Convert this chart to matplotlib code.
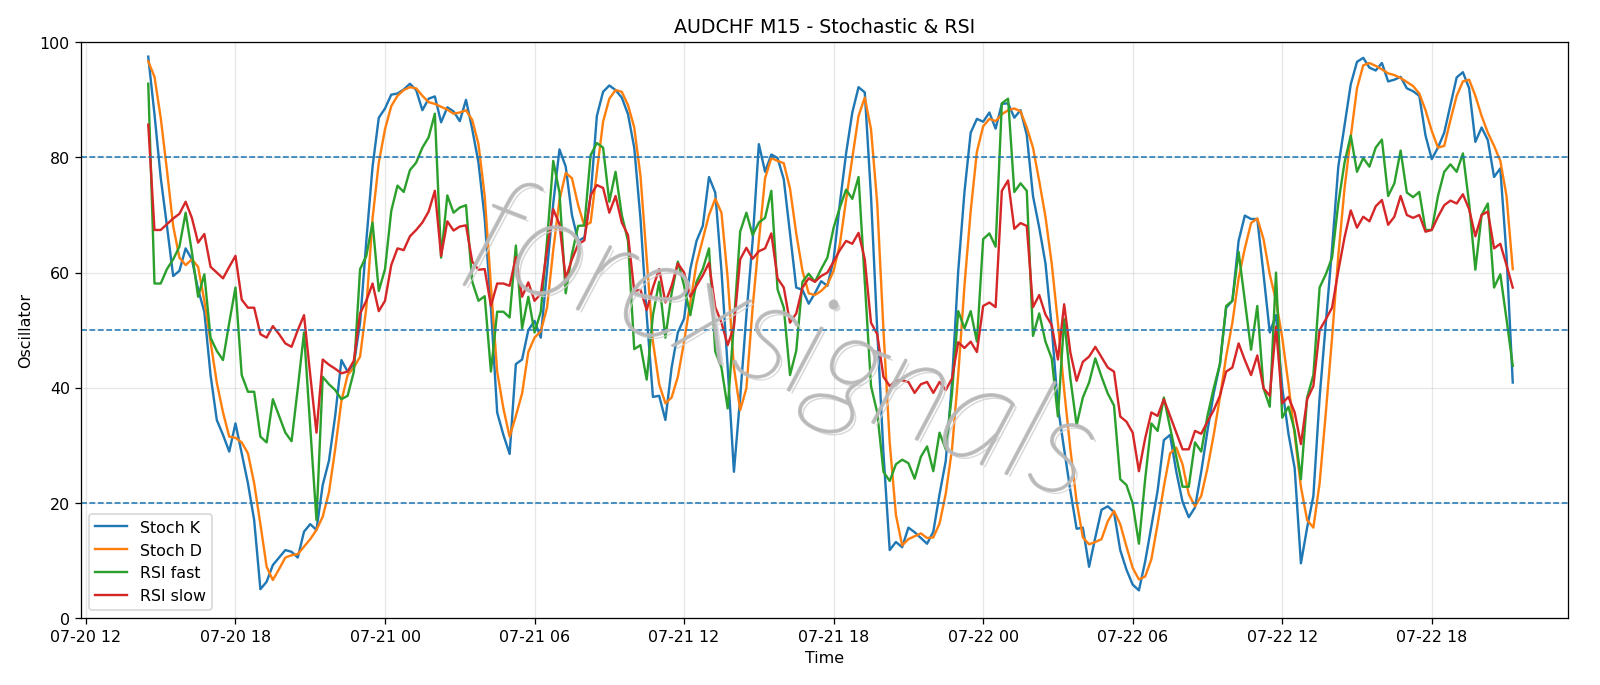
import numpy as np
import pandas as pd
import matplotlib
matplotlib.use('Agg')
import matplotlib.pyplot as plt
import matplotlib.dates as mdates
import matplotlib.patheffects as pe

# M15 bars, 07-20 14:30 .. 07-22 21:15
start_time = "2020-07-20 14:30"
n_bars = 220

stoch_k = [
    97.5, 87.5, 76.5, 68.1, 59.4, 60.3, 64.2, 62.3, 57.1, 53.2,
    42.2, 34.4, 31.8, 28.9, 33.8, 28.6, 23.4, 17.0, 5.0, 6.3,
    9.2, 10.5, 11.8, 11.5, 10.5, 15.0, 16.3, 15.3, 23.1, 27.3,
    35.1, 44.8, 42.8, 44.1, 51.3, 65.5, 78.4, 86.9, 88.5, 90.9,
    91.1, 91.8, 92.8, 91.7, 88.2, 90.2, 90.6, 86.1, 88.7, 88.0,
    86.3, 90.0, 84.9, 79.1, 69.4, 53.9, 35.7, 31.8, 28.5, 44.1,
    44.9, 50.0, 51.6, 48.7, 60.3, 72.0, 81.4, 78.4, 70.0, 65.5,
    66.1, 73.3, 87.2, 91.4, 92.5, 91.7, 90.4, 87.5, 81.7, 69.4,
    52.6, 38.4, 38.6, 34.4, 43.5, 49.6, 52.0, 60.6, 65.5, 68.1,
    76.6, 73.9, 60.3, 43.5, 25.4, 38.3, 52.6, 65.5, 82.3, 77.5,
    80.5, 79.9, 76.2, 66.8, 57.4, 57.0, 54.6, 56.4, 58.5, 57.7,
    62.3, 72.0, 80.7, 87.8, 92.2, 91.3, 73.3, 50.0, 28.6, 11.8,
    13.2, 12.3, 15.7, 14.9, 13.9, 12.9, 15.0, 21.5, 27.3, 41.0,
    60.3, 74.0, 84.3, 86.7, 86.2, 87.8, 85.0, 89.3, 89.4, 86.9,
    88.2, 83.9, 73.3, 67.8, 61.6, 50.6, 36.7, 29.3, 22.1, 15.5,
    15.7, 8.9, 14.0, 18.8, 19.4, 18.4, 11.8, 8.4, 5.8, 4.8,
    9.8, 16.0, 22.1, 30.9, 31.8, 25.4, 20.2, 17.5, 19.2, 25.4,
    32.5, 39.0, 44.1, 53.9, 55.1, 65.5, 69.9, 69.3, 69.3, 59.7,
    49.6, 52.6, 40.0, 32.0, 26.0, 9.5, 15.7, 21.2, 38.3, 51.3,
    64.2, 78.4, 85.6, 92.7, 96.6, 97.3, 95.6, 95.1, 96.4, 93.2,
    93.5, 94.0, 92.0, 91.5, 90.7, 83.8, 79.7, 81.7, 84.3, 89.1,
    93.9, 94.8, 92.0, 82.7, 85.2, 83.0, 76.6, 78.1, 63.0, 40.9,
]

stoch_d = [
    96.7, 94.0, 86.9, 77.8, 68.1, 62.6, 61.3, 62.3, 61.0, 55.1,
    48.0, 40.9, 35.7, 31.5, 31.3, 30.5, 28.6, 23.4, 16.3, 8.9,
    6.6, 8.5, 10.5, 10.9, 11.1, 12.4, 13.7, 15.3, 17.6, 21.8,
    29.3, 37.7, 42.2, 43.5, 45.4, 53.9, 69.4, 79.1, 84.9, 88.9,
    90.7, 91.7, 92.2, 92.0, 90.7, 89.6, 89.3, 88.8, 88.3, 87.6,
    87.8, 88.2, 86.5, 82.3, 73.3, 57.7, 42.8, 36.4, 31.5, 35.1,
    39.0, 46.2, 48.7, 49.8, 53.9, 63.9, 72.6, 77.3, 76.4, 71.7,
    68.1, 68.7, 77.5, 86.2, 90.2, 91.7, 91.4, 89.1, 85.2, 76.8,
    62.3, 48.0, 40.6, 37.3, 38.3, 41.9, 48.0, 54.8, 61.6, 65.8,
    70.0, 72.8, 70.4, 59.0, 43.5, 36.1, 39.9, 53.9, 65.5, 76.4,
    79.9, 79.4, 79.0, 74.6, 66.8, 60.3, 56.4, 56.1, 56.8, 57.9,
    60.3, 64.9, 72.6, 79.9, 87.2, 90.4, 84.9, 72.0, 50.0, 30.5,
    17.9, 12.6, 13.7, 14.2, 14.7, 13.9, 14.0, 16.4, 21.6, 29.3,
    42.2, 57.7, 70.7, 81.0, 85.4, 86.7, 86.3, 87.5, 88.2, 88.5,
    88.0, 85.2, 81.7, 75.9, 69.7, 61.6, 51.3, 39.6, 29.3, 20.2,
    14.0, 12.8, 13.2, 13.7, 16.8, 18.6, 16.3, 12.4, 8.7, 6.7,
    7.2, 10.2, 16.3, 22.8, 28.6, 29.6, 26.7, 21.5, 19.4, 21.2,
    26.0, 31.8, 38.3, 45.4, 51.3, 59.0, 64.2, 68.6, 69.4, 65.8,
    59.7, 55.1, 48.7, 40.6, 31.8, 22.8, 17.0, 15.7, 23.4, 35.7,
    48.7, 62.9, 74.6, 83.6, 92.0, 96.0, 96.4, 95.9, 95.3, 94.6,
    94.3, 93.8, 93.1, 92.4, 91.1, 88.2, 84.6, 81.7, 82.0, 86.5,
    90.7, 93.2, 93.5, 90.7, 87.2, 84.3, 82.0, 79.4, 73.3, 60.6,
]

rsi_fast = [
    92.8, 58.1, 58.1, 60.6, 62.3, 64.5, 70.4, 63.6, 55.8, 59.7,
    48.7, 46.4, 44.8, 51.3, 57.4, 42.2, 39.3, 39.3, 31.5, 30.5,
    38.0, 35.1, 32.2, 30.7, 39.9, 49.6, 33.1, 17.0, 41.9, 40.6,
    39.6, 38.0, 38.6, 42.8, 60.6, 62.9, 68.7, 56.8, 60.6, 70.7,
    75.1, 74.0, 77.8, 79.1, 81.7, 83.5, 87.6, 62.6, 73.4, 70.4,
    71.3, 71.7, 58.4, 55.1, 55.9, 42.8, 53.2, 53.2, 52.2, 64.7,
    50.3, 55.8, 49.6, 53.2, 65.5, 79.4, 73.9, 56.4, 63.2, 68.1,
    68.2, 80.4, 82.5, 81.7, 72.3, 77.5, 70.0, 65.5, 46.7, 47.4,
    41.4, 52.6, 58.4, 48.7, 56.4, 61.9, 57.7, 52.6, 58.4, 60.6,
    64.2, 46.3, 43.5, 36.4, 51.3, 67.1, 70.4, 66.5, 68.7, 69.5,
    74.2, 57.1, 53.9, 42.2, 46.4, 58.4, 59.8, 58.4, 60.6, 62.6,
    67.8, 71.3, 74.4, 72.8, 76.6, 58.4, 40.3, 35.7, 25.4, 23.8,
    26.7, 27.5, 26.9, 24.2, 28.0, 29.8, 25.5, 32.2, 29.3, 39.0,
    53.3, 50.3, 53.3, 48.0, 65.8, 66.8, 64.5, 89.4, 90.2, 74.0,
    75.5, 74.2, 49.0, 52.9, 48.0, 45.1, 35.0, 51.9, 41.6, 33.5,
    38.3, 40.9, 45.1, 41.9, 39.0, 36.9, 24.1, 23.1, 19.9, 12.9,
    24.1, 33.8, 32.5, 38.3, 33.1, 28.0, 22.8, 22.8, 30.5, 28.9,
    35.1, 39.9, 44.1, 54.2, 55.1, 63.6, 55.1, 46.6, 54.2, 39.9,
    36.7, 60.0, 34.8, 36.7, 32.5, 24.1, 38.3, 42.2, 57.4, 59.7,
    62.6, 72.0, 79.1, 83.8, 77.5, 79.9, 78.4, 81.7, 83.1, 73.3,
    75.5, 81.2, 73.9, 73.1, 74.0, 67.4, 67.4, 73.3, 77.5, 78.8,
    77.5, 80.7, 72.0, 60.5, 70.0, 72.0, 57.4, 59.7, 51.9, 43.8,
]

rsi_slow = [
    85.7, 67.4, 67.4, 68.4, 69.4, 70.2, 72.3, 69.5, 65.2, 66.7,
    61.0, 60.0, 59.0, 61.0, 62.9, 55.3, 53.9, 53.9, 49.3, 48.7,
    50.7, 49.3, 47.7, 47.1, 50.0, 52.6, 42.2, 32.2, 44.9, 44.0,
    43.3, 42.5, 42.8, 44.7, 52.9, 55.1, 58.1, 53.3, 55.1, 61.3,
    64.2, 63.9, 66.3, 67.4, 68.7, 70.6, 74.2, 62.9, 68.9, 67.3,
    68.0, 68.2, 61.9, 60.5, 60.6, 54.2, 58.1, 58.1, 57.7, 62.7,
    55.8, 58.3, 55.1, 56.3, 63.9, 71.0, 68.4, 59.0, 62.3, 64.9,
    65.6, 73.4, 75.2, 74.7, 70.4, 73.3, 68.7, 66.5, 56.8, 57.0,
    53.5, 57.4, 60.6, 54.8, 57.7, 61.6, 60.0, 55.8, 57.7, 59.5,
    61.7, 54.0, 51.3, 47.4, 50.6, 62.3, 64.3, 62.4, 63.7, 64.2,
    66.8, 59.0, 57.4, 51.3, 52.9, 57.4, 59.0, 58.4, 59.4, 60.0,
    61.9, 63.9, 65.5, 65.0, 66.9, 62.3, 51.3, 49.3, 41.9, 40.3,
    41.2, 41.3, 41.0, 39.1, 40.6, 41.0, 39.1, 41.0, 39.6, 41.6,
    47.9, 46.9, 48.0, 46.2, 54.2, 54.8, 54.0, 74.2, 76.0, 67.6,
    68.6, 68.1, 54.0, 56.1, 52.7, 50.9, 44.9, 54.5, 46.1, 41.2,
    44.5, 45.4, 47.1, 45.3, 43.5, 42.8, 35.0, 34.1, 32.2, 25.5,
    31.2, 35.7, 35.1, 38.0, 35.1, 32.2, 29.3, 29.3, 32.5, 32.0,
    34.1, 36.1, 38.6, 42.8, 43.5, 47.7, 44.8, 42.2, 45.6, 39.9,
    38.6, 50.6, 37.3, 38.4, 35.7, 30.2, 38.0, 40.3, 50.0, 51.9,
    53.9, 60.3, 66.1, 70.8, 67.8, 69.7, 68.9, 71.5, 72.6, 68.3,
    69.7, 73.3, 70.0, 69.5, 70.0, 67.1, 67.4, 69.7, 71.7, 72.5,
    72.0, 73.6, 71.0, 66.3, 70.0, 70.6, 64.2, 65.0, 61.3, 57.4,
]

levels = [80, 50, 20]

times = pd.date_range(start_time, periods=n_bars, freq="15min")

fig = plt.figure(figsize=(14, 6), dpi=1600 / 14)
ax = fig.add_axes([0.0506, 0.0977, 0.9294, 0.8396])

ax.plot(times, stoch_k, label="Stoch K")
ax.plot(times, stoch_d, label="Stoch D")
ax.plot(times, rsi_fast, label="RSI fast")
ax.plot(times, rsi_slow, label="RSI slow")

for lv in levels:
    ax.axhline(lv, linestyle="--", linewidth=1, color="tab:blue")

ax.set_ylim(0, 100)
ax.set_xlim(pd.Timestamp("2020-07-20 11:48"), pd.Timestamp("2020-07-22 23:28"))
ax.xaxis.set_major_locator(mdates.HourLocator(byhour=[0, 6, 12, 18]))
ax.xaxis.set_major_formatter(mdates.DateFormatter("%m-%d %H"))
ax.grid(True, alpha=0.3)

ax.set_title("AUDCHF M15 - Stochastic & RSI")
ax.set_xlabel("Time")
ax.set_ylabel("Oscillator")
ax.legend(loc="lower left")

# watermark
ax.text(0.472, 0.47, "forexsignals", transform=ax.transAxes,
        fontsize=90, family="Lato", style="italic", weight="light",
        color="#b8b8b8", alpha=0.85, rotation=-21,
        ha="center", va="center", zorder=5,
        path_effects=[pe.SimplePatchShadow(offset=(2, -2), shadow_rgbFace="#cfcfcf", alpha=0.8),
                      pe.Stroke(linewidth=1.6, foreground="#b8b8b8"),
                      pe.Normal()])

fig.savefig("out.png", dpi=1600 / 14)
